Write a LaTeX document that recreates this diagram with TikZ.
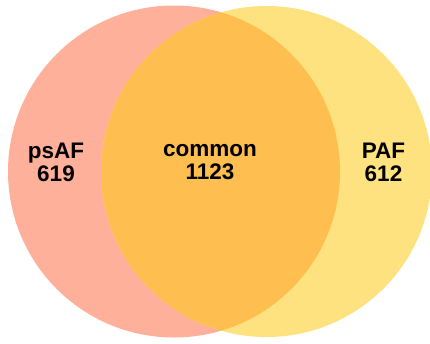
\documentclass[tikz,border=0pt]{standalone}
\usepackage{fontspec}
\setmainfont{Liberation Sans}
\definecolor{cleft}{RGB}{255,176,154}
\definecolor{cright}{RGB}{255,226,128}
\definecolor{cboth}{RGB}{254,190,80}
\tikzset{
  lbl/.style={font=\bfseries\fontsize{22.5}{23}\selectfont, align=center, text=black, inner sep=0pt},
}
\begin{document}
\begin{tikzpicture}[x=1pt,y=-1pt]
\useasboundingbox (0,0) rectangle (430,343);
\clip (0,0) rectangle (430,343);
\fill[cleft] (174,171.5) circle (166);
\fill[cright] (266.5,171.5) circle (165.5);
\begin{scope}
  \clip (174,171.5) circle (166);
  \fill[cboth] (266.5,171.5) circle (165.5);
\end{scope}
\node[lbl] (psaf) at (56,162) {psAF\\619};
\node[lbl] (common) at (210,162) {common\\1123};
\node[lbl] (paf) at (383.5,162) {PAF\\612};
\end{tikzpicture}
\end{document}
